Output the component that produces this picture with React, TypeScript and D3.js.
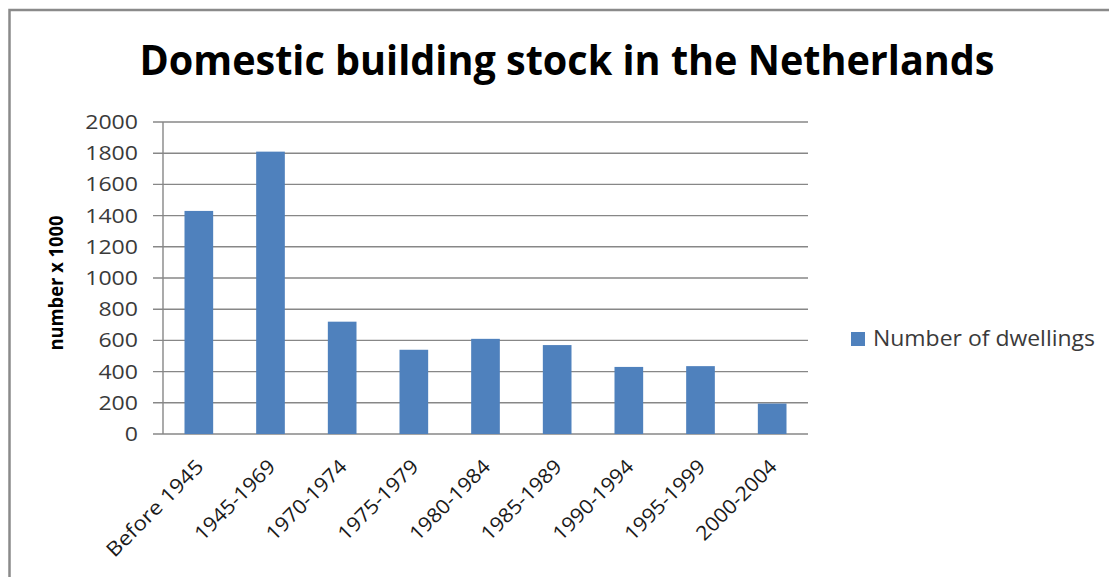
import React from "react";
import * as d3 from "d3";

const categories = [
  "Before 1945",
  "1945-1969",
  "1970-1974",
  "1975-1979",
  "1980-1984",
  "1985-1989",
  "1990-1994",
  "1995-1999",
  "2000-2004",
];
const dwellings = [1430, 1810, 720, 540, 610, 570, 430, 435, 195];
const yTicks = [0, 200, 400, 600, 800, 1000, 1200, 1400, 1600, 1800, 2000];
const title = "Domestic building stock in the Netherlands";
const yTitle = "number x 1000";
const seriesName = "Number of dwellings";

const W = 1109;
const H = 577;
const FONT = "'Open Sans', 'DejaVu Sans', sans-serif";
const BAR = "#4F81BD";
const GRID = "#878787";
const TEXT = "#3a3a3a";

export default function App() {
  const left = 163;
  const right = 808;
  const top = 122;
  const bottom = 434;

  const x = d3
    .scaleBand<string>()
    .domain(categories)
    .range([left, right])
    .paddingInner(0.6)
    .paddingOuter(0.3);
  const y = d3.scaleLinear().domain([0, 2000]).range([bottom, top]);

  return (
    <svg
      width={W}
      height={H}
      style={{ position: "absolute", left: 0, top: 0, background: "#fff" }}
      fontFamily={FONT}
    >
      <rect x={0} y={0} width={W} height={H} fill="#fff" />
      <rect
        x={9.5}
        y={10}
        width={W + 50}
        height={H + 50}
        fill="none"
        stroke="#8a8a8a"
        strokeWidth={2.5}
      />
      <text
        x={567}
        y={75}
        textAnchor="middle"
        fontSize={42}
        fontWeight="bold"
        fill="#000"
        textLength={855}
        lengthAdjust="spacingAndGlyphs"
      >
        {title}
      </text>

      {/* gridlines */}
      {yTicks.map((t) => (
        <line
          key={"g" + t}
          x1={left - 10}
          x2={right}
          y1={y(t)}
          y2={y(t)}
          stroke={GRID}
          strokeWidth={1.4}
        />
      ))}
      {/* y axis line */}
      <line x1={left} x2={left} y1={top} y2={bottom} stroke={GRID} strokeWidth={1.4} />

      {/* bars */}
      {categories.map((c, i) => (
        <rect
          key={"b" + c}
          x={x(c)}
          y={y(dwellings[i])}
          width={x.bandwidth()}
          height={bottom - y(dwellings[i])}
          fill={BAR}
        />
      ))}

      {/* y tick labels */}
      {yTicks.map((t) => (
        <text
          key={"t" + t}
          x={138}
          y={y(t)}
          dy="0.36em"
          textAnchor="end"
          fontSize={19.5}
          fill={TEXT}
          textLength={String(t).length * 13.2}
          lengthAdjust="spacingAndGlyphs"
        >
          {t}
        </text>
      ))}

      {/* y axis title */}
      <text
        transform={`translate(63, ${(top + bottom) / 2 + 5}) rotate(-90)`}
        textAnchor="middle"
        fontSize={20}
        fontWeight="bold"
        fill="#000"
        textLength={135}
        lengthAdjust="spacingAndGlyphs"
      >
        {yTitle}
      </text>

      {/* x labels */}
      {categories.map((c) => {
        const cx = (x(c) as number) + x.bandwidth() / 2;
        return (
          <text
            key={"x" + c}
            transform={`translate(${cx + 6}, 468) rotate(-45)`}
            textAnchor="end"
            fontSize={20}
            fill="#1a1a1a"
            textLength={c.length * 11.6}
            lengthAdjust="spacingAndGlyphs"
          >
            {c}
          </text>
        );
      })}

      {/* legend */}
      <rect x={851} y={332} width={14} height={14} fill={BAR} />
      <text
        x={873}
        y={346}
        fontSize={22}
        fill={TEXT}
        textLength={222}
        lengthAdjust="spacingAndGlyphs"
      >
        {seriesName}
      </text>
    </svg>
  );
}
